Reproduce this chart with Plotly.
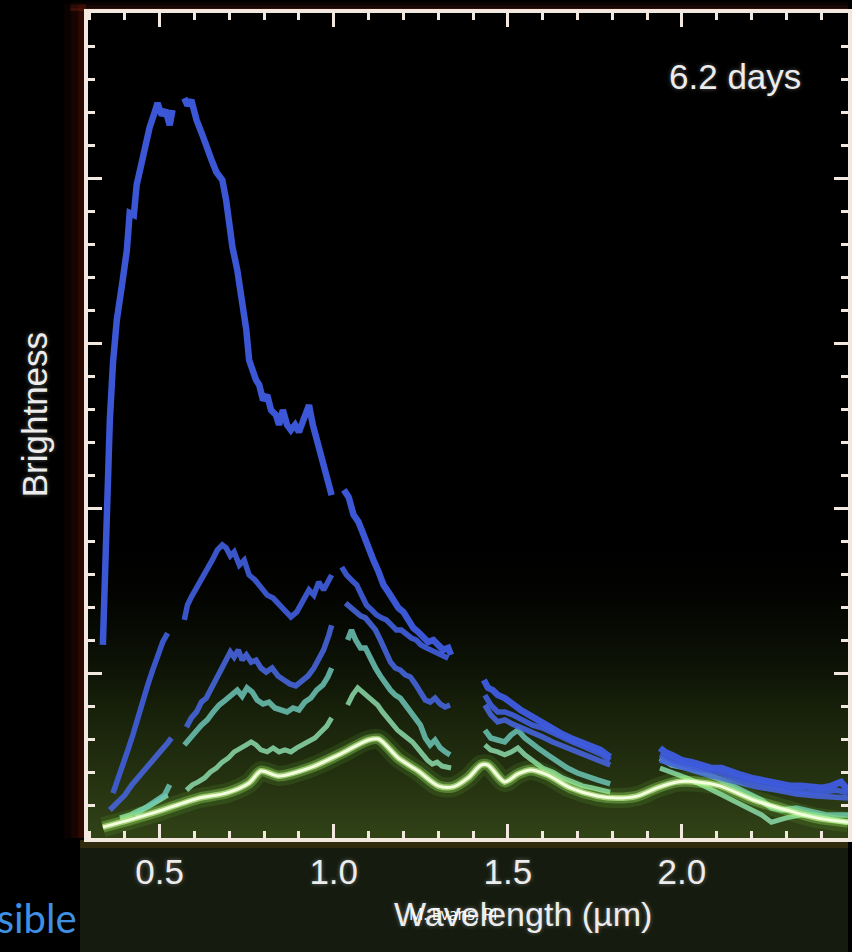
import plotly.graph_objects as go

# ---------------- data ----------------
# Spectrum 1 (top, blue); None marks detector gaps
wl_s1 = [0.337, 0.343, 0.349, 0.357, 0.366, 0.377, 0.394, 0.406, 0.414, 0.426, 0.434, 0.443, 0.457, 0.471, 0.486, 0.494, 0.506, 0.517, 0.529, 0.537, None,
         0.571, 0.58, 0.591, 0.606, 0.623, 0.634, 0.649, 0.663, 0.68, 0.691, 0.7, 0.709, 0.723, 0.737, 0.749, 0.757, 0.766, 0.777, 0.786, 0.797, 0.809, 0.82, 0.834, 0.843, 0.854, 0.866, 0.877, 0.889, 0.9, 0.914, 0.929, 0.94, 0.951, 0.963, 0.974, 0.986, 0.994, None,
         1.029, 1.043, 1.057, 1.071, 1.086, 1.1, 1.114, 1.129, 1.143, 1.157, 1.171, 1.186, 1.2, 1.214, 1.229, 1.243, 1.257, 1.271, 1.286, 1.3, 1.314, 1.329, 1.337, None,
         1.431, 1.443, 1.457, 1.471, 1.491, 1.514, 1.537, 1.566, 1.594, 1.623, 1.651, 1.68, 1.709, 1.737, 1.766, 1.794, None,
         1.937, 1.951, 1.971, 2.0, 2.029, 2.057, 2.086, 2.114, 2.143, 2.171, 2.2, 2.229, 2.257, 2.286, 2.314, 2.343, 2.371, 2.4, 2.429, 2.457, 2.477]
br_s1 = [5.85, 8.42, 9.64, 12.67, 14.39, 15.70, 16.91, 17.82, 18.94, 18.88, 19.79, 20.24, 20.85, 21.52, 22.0, 22.27, 21.9, 22.06, 21.6, 22.06, None,
         22.42, 22.2, 22.36, 21.76, 21.3, 20.94, 20.55, 20.18, 19.94, 19.33, 18.58, 17.91, 17.21, 16.3, 15.39, 14.48, 14.18, 13.88, 13.73, 13.27, 13.42, 12.97, 12.82, 12.52, 12.97, 12.52, 12.36, 12.52, 12.3, 12.67, 13.12, 12.52, 12.06, 11.61, 11.15, 10.55, 10.39, None,
         10.55, 10.33, 9.79, 9.58, 9.18, 8.73, 8.42, 8.06, 7.67, 7.45, 7.21, 6.97, 6.85, 6.61, 6.36, 6.24, 6.06, 5.94, 6.0, 5.82, 5.70, 5.76, 5.55, None,
         4.79, 4.55, 4.48, 4.33, 4.24, 4.03, 3.88, 3.70, 3.52, 3.33, 3.18, 3.03, 2.91, 2.82, 2.67, 2.45, None,
         2.73, 2.61, 2.52, 2.36, 2.30, 2.21, 2.12, 2.12, 2.0, 1.91, 1.82, 1.76, 1.70, 1.64, 1.58, 1.58, 1.55, 1.52, 1.58, 1.70, 1.45]

# Spectrum 2 (blue)
wl_s2 = [0.366, 0.38, 0.394, 0.409, 0.423, 0.437, 0.451, 0.466, 0.48, 0.494, 0.509, 0.523, None,
         0.571, 0.58, 0.591, 0.606, 0.623, 0.637, 0.651, 0.666, 0.68, 0.691, 0.703, 0.714, 0.729, 0.743, 0.757, 0.774, 0.791, 0.809, 0.826, 0.843, 0.86, 0.877, 0.894, 0.911, 0.929, 0.943, 0.957, 0.971, 0.986, 0.994, None,
         1.023, 1.037, 1.051, 1.066, 1.08, 1.094, 1.109, 1.123, 1.137, 1.151, 1.166, 1.18, 1.194, 1.209, 1.223, 1.237, 1.251, 1.266, 1.28, 1.294, 1.309, 1.329, None,
         1.434, 1.451, 1.471, 1.491, 1.514, 1.543, 1.571, 1.6, 1.629, 1.657, 1.686, 1.714, 1.743, 1.771, 1.794, None,
         1.937, 1.971, 2.014, 2.057, 2.1, 2.143, 2.186, 2.229, 2.271, 2.314, 2.357, 2.4, 2.443, 2.477]
br_s2 = [1.36, 1.76, 2.21, 2.67, 3.12, 3.64, 4.18, 4.64, 5.09, 5.55, 5.94, 6.21, None,
         6.61, 7.06, 7.30, 7.58, 7.82, 8.12, 8.42, 8.73, 8.88, 8.79, 8.55, 8.67, 8.27, 8.42, 7.97, 7.82, 7.58, 7.36, 7.27, 7.06, 6.85, 6.70, 6.85, 7.21, 7.52, 7.36, 7.76, 7.52, 7.88, 7.97, None,
         8.21, 7.97, 7.82, 7.67, 7.36, 7.06, 6.91, 6.76, 6.67, 6.61, 6.45, 6.30, 6.30, 6.15, 6.06, 6.0, 5.85, 5.76, 5.70, 5.64, 5.55, 5.45, None,
         4.33, 4.03, 3.82, 3.82, 3.73, 3.58, 3.42, 3.33, 3.18, 3.03, 2.91, 2.79, 2.67, 2.52, 2.36, None,
         2.52, 2.36, 2.21, 2.12, 2.0, 1.88, 1.76, 1.64, 1.55, 1.45, 1.39, 1.39, 1.45, 1.36]

# Spectrum 3 (blue)
wl_s3 = [0.357, 0.377, 0.4, 0.42, 0.443, 0.466, 0.486, 0.506, 0.523, 0.534, None,
         0.577, 0.591, 0.606, 0.62, 0.634, 0.649, 0.663, 0.677, 0.691, 0.703, 0.714, 0.726, 0.737, 0.749, 0.763, 0.777, 0.791, 0.806, 0.823, 0.84, 0.857, 0.874, 0.891, 0.909, 0.926, 0.943, 0.957, 0.971, 0.986, 0.994, None,
         1.034, 1.049, 1.063, 1.077, 1.091, 1.106, 1.12, 1.134, 1.149, 1.163, 1.177, 1.191, 1.206, 1.22, 1.234, 1.249, 1.263, 1.277, 1.291, 1.306, 1.32, 1.334, None,
         1.434, 1.451, 1.471, 1.491, 1.514, 1.543, 1.571, 1.6, 1.629, 1.657, 1.686, 1.714, 1.743, 1.771, 1.794, None,
         1.937, 1.986, 2.043, 2.1, 2.157, 2.214, 2.271, 2.329, 2.386, 2.443, 2.477]
br_s3 = [0.85, 1.06, 1.30, 1.61, 1.91, 2.21, 2.45, 2.67, 2.88, 3.03, None,
         3.36, 3.64, 3.82, 4.12, 4.24, 4.55, 4.79, 5.15, 5.39, 5.64, 5.48, 5.70, 5.39, 5.55, 5.33, 5.39, 5.15, 5.03, 5.15, 4.91, 4.79, 4.67, 4.61, 4.79, 4.91, 5.15, 5.39, 5.70, 6.15, 6.45, None,
         7.12, 6.97, 6.85, 6.73, 6.67, 6.45, 6.30, 6.0, 5.64, 5.33, 5.15, 5.09, 4.94, 4.88, 4.67, 4.42, 4.18, 4.12, 4.24, 4.06, 3.97, 4.03, None,
         4.03, 3.73, 3.52, 3.58, 3.45, 3.33, 3.18, 3.06, 2.91, 2.79, 2.67, 2.55, 2.42, 2.30, 2.21, None,
         2.36, 2.21, 2.0, 1.82, 1.70, 1.55, 1.45, 1.33, 1.27, 1.24, 1.21]

# Spectrum 4 (cyan)
wl_s4 = [0.429, 0.449, 0.471, 0.494, 0.514, 0.529, None,
         0.571, 0.586, 0.603, 0.62, 0.637, 0.654, 0.671, 0.689, 0.706, 0.723, 0.737, 0.751, 0.766, 0.78, 0.797, 0.814, 0.831, 0.849, 0.866, 0.883, 0.9, 0.917, 0.934, 0.951, 0.969, 0.983, 0.994, None,
         1.04, 1.051, 1.063, 1.077, 1.091, 1.106, 1.12, 1.134, 1.149, 1.163, 1.177, 1.191, 1.206, 1.22, 1.234, 1.249, 1.263, 1.277, 1.291, 1.306, 1.32, 1.334, None,
         1.434, 1.451, 1.471, 1.491, 1.509, 1.529, 1.549, 1.566, 1.586, 1.614, 1.643, 1.671, 1.7, 1.729, 1.757, 1.794, None,
         1.937, 1.971, 2.014, 2.057, 2.1, 2.143, 2.186, 2.229, 2.257, 2.286, 2.329, 2.371, 2.414, 2.477]
br_s4 = [0.70, 0.85, 1.0, 1.15, 1.30, 1.61, None,
         2.82, 3.03, 3.21, 3.42, 3.58, 3.82, 4.03, 4.18, 4.33, 4.48, 4.30, 4.55, 4.42, 4.18, 4.06, 4.12, 3.94, 3.88, 3.82, 3.94, 3.88, 4.12, 4.24, 4.48, 4.64, 4.88, 5.15, None,
         6.0, 6.30, 6.0, 5.76, 5.76, 5.39, 5.15, 4.91, 4.67, 4.48, 4.33, 4.24, 4.03, 3.82, 3.64, 3.42, 3.03, 2.82, 2.97, 2.73, 2.61, 2.52, None,
         3.27, 3.03, 2.97, 2.91, 3.12, 3.27, 3.03, 2.91, 2.73, 2.52, 2.30, 2.12, 1.97, 1.85, 1.76, 1.64, None,
         2.42, 2.21, 2.12, 2.0, 1.82, 1.61, 1.39, 1.15, 0.91, 0.85, 0.91, 0.79, 0.70, 0.70]

# Spectrum 5 (pale cyan-green)
wl_s5 = [0.386, 0.414, 0.443, 0.471, 0.5, 0.523, None,
         0.577, 0.594, 0.611, 0.629, 0.646, 0.663, 0.68, 0.697, 0.714, 0.731, 0.749, 0.763, 0.777, 0.791, 0.809, 0.826, 0.843, 0.86, 0.877, 0.894, 0.911, 0.929, 0.946, 0.963, 0.98, 0.994, None,
         1.04, 1.054, 1.069, 1.083, 1.097, 1.111, 1.126, 1.14, 1.154, 1.169, 1.183, 1.197, 1.211, 1.226, 1.24, 1.254, 1.269, 1.283, 1.297, 1.311, 1.337, None,
         1.434, 1.451, 1.471, 1.491, 1.511, 1.529, 1.549, 1.571, 1.6, 1.629, 1.657, 1.686, 1.714, 1.743, 1.771, 1.794, None,
         1.937, 1.971, 2.014, 2.057, 2.1, 2.143, 2.186, 2.229, 2.257, 2.3, 2.343, 2.386, 2.429, 2.477]
br_s5 = [0.61, 0.70, 0.85, 0.97, 1.15, 1.30, None,
         1.45, 1.61, 1.70, 1.82, 2.0, 2.12, 2.30, 2.42, 2.61, 2.73, 2.82, 2.91, 2.82, 2.67, 2.61, 2.73, 2.61, 2.67, 2.61, 2.73, 2.82, 2.91, 3.03, 3.21, 3.39, 3.64, None,
         4.03, 4.33, 4.55, 4.42, 4.33, 4.18, 4.03, 3.82, 3.64, 3.42, 3.27, 3.15, 3.03, 2.91, 2.73, 2.52, 2.36, 2.24, 2.30, 2.18, 2.12, None,
         2.82, 2.67, 2.61, 2.52, 2.61, 2.73, 2.52, 2.36, 2.12, 2.0, 1.82, 1.70, 1.58, 1.52, 1.45, 1.39, None,
         2.12, 2.0, 1.82, 1.61, 1.39, 1.15, 0.91, 0.70, 0.48, 0.61, 0.70, 0.70, 0.55, 0.48]

# Smooth model curve (glowing green)
wl_model = [0.337, 0.414, 0.491, 0.614, 0.691, 0.757, 0.791, 0.843, 0.937, 1.014, 1.1, 1.129, 1.186, 1.243, 1.3, 1.343, 1.386, 1.423, 1.443,
            1.491, 1.529, 1.566, 1.614, 1.68, 1.757, 1.814, 1.871, 1.929, 1.986, 2.043, 2.109, 2.206, 2.3, 2.386, 2.477]
br_model = [0.33, 0.55, 0.79, 1.21, 1.36, 1.67, 2.03, 1.88, 2.15, 2.52, 2.97, 3.0, 2.42, 2.03, 1.58, 1.55, 1.82, 2.21, 2.21,
            1.70, 1.94, 2.06, 1.91, 1.52, 1.27, 1.21, 1.27, 1.52, 1.70, 1.70, 1.58, 1.15, 0.85, 0.61, 0.48]

x_ticks = [0.5, 1.0, 1.5, 2.0]
x_tick_labels = ["0.5", "1.0", "1.5", "2.0"]
epoch_label = "6.2 days"

# ---------------- figure ----------------
X_RANGE = [0.2943, 2.477]
Y_RANGE = [0, 25]
AX = "#f2e8e0"
TXT = "#ececec"
glow = "0px 0px 4px rgba(255,255,255,0.35)"

fig = go.Figure()

# greenish background glow rising from the bottom of the panel
fig.add_trace(go.Scatter(
    x=X_RANGE, y=[9.5, 9.5], mode="lines", line=dict(width=0), fill="tozeroy",
    fillgradient=dict(type="vertical", start=0, stop=9.5,
                      colorscale=[[0, "rgba(52,70,24,0.95)"], [0.4, "rgba(32,45,14,0.75)"], [1, "rgba(0,0,0,0)"]]),
    hoverinfo="skip", showlegend=False))

spectra = [
    (wl_s5, br_s5, "rgba(140,218,170,0.85)", 5),
    (wl_s4, br_s4, "rgba(108,196,182,0.85)", 5.5),
    (wl_s3, br_s3, "rgba(70,100,218,0.9)", 5.5),
    (wl_s2, br_s2, "rgba(64,94,222,0.9)", 5.5),
    (wl_s1, br_s1, "rgba(62,92,226,0.95)", 6.5),
]
for wl, br, col, w in spectra:
    fig.add_trace(go.Scatter(x=wl, y=br, mode="lines", line=dict(color=col, width=w),
                             connectgaps=False, hoverinfo="skip", showlegend=False))

# model curve with glow
for w, col in [(20, "rgba(140,255,80,0.10)"), (11, "rgba(170,255,110,0.30)"), (6, "rgba(210,255,160,0.6)"), (3, "#f4ffe0")]:
    fig.add_trace(go.Scatter(x=wl_model, y=br_model, mode="lines",
                             line=dict(color=col, width=w, shape="spline", smoothing=0.8),
                             hoverinfo="skip", showlegend=False))

axis_common = dict(showgrid=False, zeroline=False, showline=True, linecolor=AX, linewidth=4,
                   mirror="ticks", ticks="inside", ticklen=14, tickwidth=3, tickcolor=AX)

fig.update_xaxes(range=X_RANGE, tickmode="array", tickvals=x_ticks, ticktext=x_tick_labels,
                 tickfont=dict(family="Liberation Sans", size=35, color=TXT, shadow=glow),
                 minor=dict(tickmode="linear", tick0=0, dtick=0.1, ticks="inside", ticklen=7,
                            tickwidth=3, tickcolor=AX),
                 **axis_common)
fig.update_yaxes(range=Y_RANGE, tickmode="linear", tick0=0, dtick=5, showticklabels=False,
                 minor=dict(tickmode="linear", tick0=0, dtick=1, ticks="inside", ticklen=7,
                            tickwidth=3, tickcolor=AX),
                 **axis_common)

W, H = 852, 952
L, R, T, B = 88, 0, 13, 114
pw, ph = W - L - R, H - T - B


def px(xp):
    return (xp - L) / pw


def py(yp):
    return (H - B - yp) / ph


shapes = []
# reddish halo outside the left and top frame, warm halo below the bottom frame
for i, a in enumerate([0.08, 0.14, 0.22]):
    shapes.append(dict(type="rect", xref="paper", yref="paper", layer="below", line=dict(width=0),
                       x0=px(64 + i * 7), x1=px(86), y0=py(838), y1=py(4),
                       fillcolor=f"rgba(120,25,10,{a})"))
    shapes.append(dict(type="rect", xref="paper", yref="paper", layer="below", line=dict(width=0),
                       x0=px(70), x1=1, y0=py(11), y1=py(2 + i * 3),
                       fillcolor=f"rgba(120,35,25,{a})"))
shapes.append(dict(type="rect", xref="paper", yref="paper", layer="below", line=dict(width=0),
                   x0=px(80), x1=1, y0=py(952), y1=py(840), fillcolor="rgba(22,27,16,1)"))
shapes.append(dict(type="rect", xref="paper", yref="paper", layer="below", line=dict(width=0),
                   x0=px(80), x1=1, y0=py(848), y1=py(840), fillcolor="rgba(110,80,10,0.3)"))

annotations = [
    dict(text=epoch_label, x=px(738), y=py(76), xref="paper", yref="paper", showarrow=False,
         xanchor="center", yanchor="middle",
         font=dict(family="Liberation Sans", size=35, color=TXT, shadow=glow)),
    dict(text="Wavelength (µm)", x=px(525), y=py(914), xref="paper", yref="paper", showarrow=False,
         xanchor="center", yanchor="middle",
         font=dict(family="Liberation Sans", size=34, color=TXT, shadow=glow)),
    dict(text="Brightness", x=px(34), y=py(415), xref="paper", yref="paper", showarrow=False,
         textangle=-90, xanchor="center", yanchor="middle",
         font=dict(family="Liberation Sans", size=35, color=TXT, shadow=glow)),
    dict(text="M. Evans, PI", x=px(455), y=py(914), xref="paper", yref="paper", showarrow=False,
         xanchor="center", yanchor="middle",
         font=dict(family="Open Sans", size=16, color="#ffffff")),
    dict(text="Visible", x=px(79), y=py(918), xref="paper", yref="paper", showarrow=False,
         xanchor="right", yanchor="middle",
         font=dict(family="Lato", size=40, color="#3f8fe2")),
]

fig.update_layout(
    width=W, height=H, margin=dict(l=L, r=R, t=T, b=B, pad=0),
    paper_bgcolor="#000000", plot_bgcolor="#000000",
    shapes=shapes, annotations=annotations, showlegend=False,
)

fig.write_html("out.html", config={"displayModeBar": False},
               post_script="document.body.style.margin='0';document.body.style.overflow='hidden';document.body.style.background='#000';")
